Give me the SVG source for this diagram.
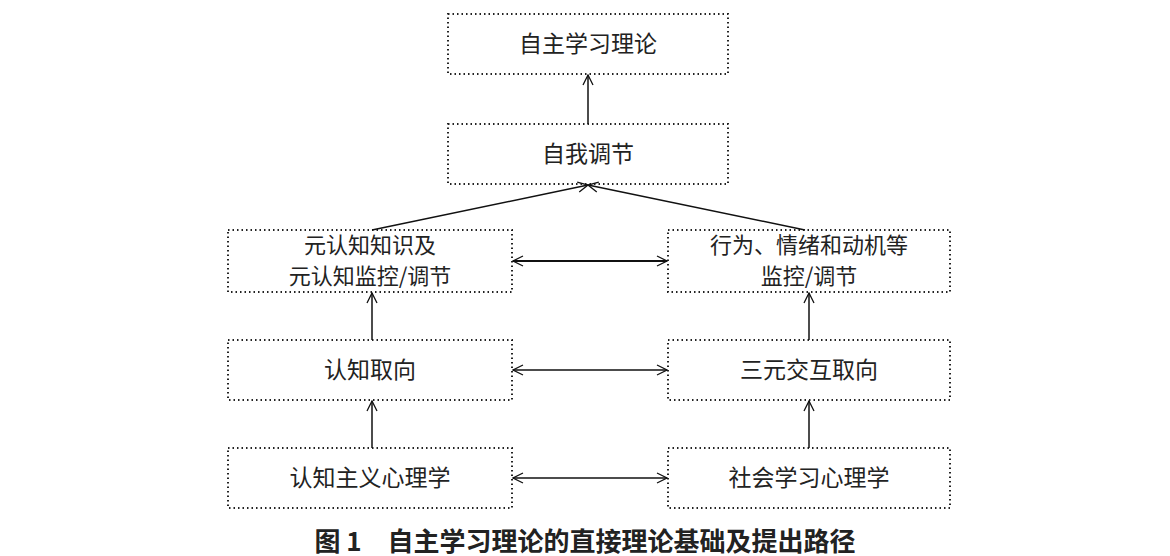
<svg xmlns="http://www.w3.org/2000/svg" width="1170" height="556" viewBox="0 0 1170 556">
<defs>
<marker id="a" viewBox="0 0 12 12" refX="11" refY="6" markerWidth="12" markerHeight="12" markerUnits="userSpaceOnUse" orient="auto-start-reverse"><path d="M1,1 L11,6 L1,11" fill="none" stroke="#111" stroke-width="1.3"/></marker>
</defs>
<style>
.b{fill:#fff;stroke:#222;stroke-width:2;stroke-dasharray:1.5 3}
.t{font-family:"Noto Sans CJK SC","Liberation Serif",serif;font-size:23px;fill:#222;text-anchor:middle}
.s{font-size:22px}
.c line{stroke:#111;stroke-width:1.5;marker-end:url(#a)}
</style>
<rect width="1170" height="556" fill="#fff"/>
<g id="n1"><rect class="b" x="448" y="14" width="280" height="60"/><text class="t" x="588" y="52">自主学习理论</text></g>
<g id="n2"><rect class="b" x="448" y="124" width="280" height="60"/><text class="t" x="588" y="162">自我调节</text></g>
<g id="n3"><rect class="b" x="228" y="230" width="284" height="62"/><text class="t s" x="370" y="253">元认知知识及</text><text class="t s" x="370" y="284">元认知监控/调节</text></g>
<g id="n4"><rect class="b" x="668" y="230" width="282" height="62"/><text class="t s" x="809" y="253">行为、情绪和动机等</text><text class="t s" x="809" y="284">监控/调节</text></g>
<g id="n5"><rect class="b" x="228" y="340" width="284" height="60"/><text class="t" x="370" y="378">认知取向</text></g>
<g id="n6"><rect class="b" x="668" y="340" width="282" height="60"/><text class="t" x="809" y="378">三元交互取向</text></g>
<g id="n7"><rect class="b" x="228" y="448" width="284" height="60"/><text class="t" x="370" y="486">认知主义心理学</text></g>
<g id="n8"><rect class="b" x="668" y="448" width="282" height="60"/><text class="t" x="809" y="486">社会学习心理学</text></g>
<g class="c">
<line x1="588" y1="124" x2="588" y2="75"/>
<line x1="372" y1="230" x2="588" y2="185"/>
<line x1="805" y1="230" x2="588" y2="185"/>
<line x1="372" y1="340" x2="372" y2="293"/>
<line x1="809" y1="340" x2="809" y2="293"/>
<line x1="372" y1="448" x2="372" y2="401"/>
<line x1="809" y1="448" x2="809" y2="401"/>
<line x1="513" y1="261" x2="667" y2="261" style="marker-start:url(#a);stroke-width:2"/>
<line x1="513" y1="370" x2="667" y2="370" style="marker-start:url(#a)"/>
<line x1="513" y1="478" x2="667" y2="478" style="marker-start:url(#a)"/>
</g>
<text x="585" y="551" style="font-family:'Noto Sans CJK SC',sans-serif;font-size:26px;font-weight:bold;fill:#222;text-anchor:middle">图 1　自主学习理论的直接理论基础及提出路径</text>
</svg>
